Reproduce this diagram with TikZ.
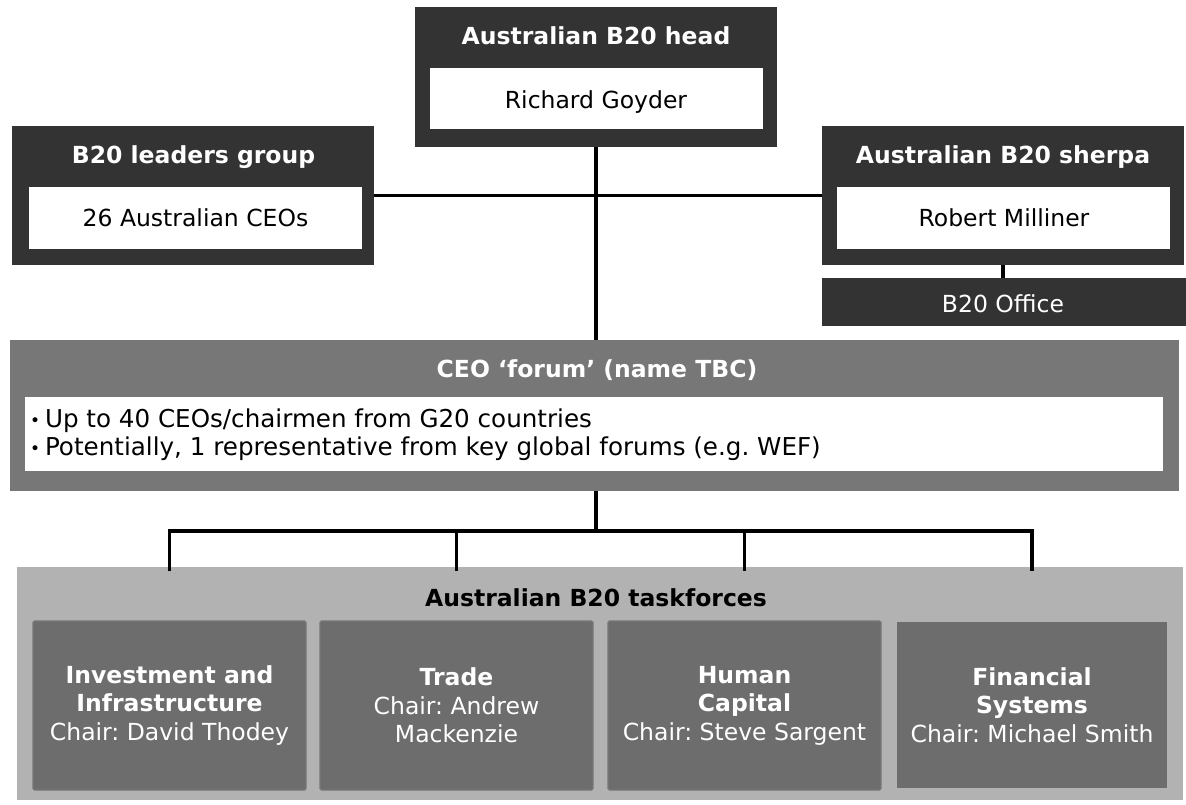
\documentclass[tikz,border=0pt]{standalone}
\usepackage{fontspec}
\setmainfont{DejaVu Sans}
\frenchspacing
\definecolor{boxdark}{HTML}{333333}
\definecolor{forumgray}{HTML}{777777}
\definecolor{tfouter}{HTML}{B2B2B2}
\definecolor{tfinner}{HTML}{6D6D6D}
\definecolor{tfedge}{HTML}{777777}
\newcommand{\bul}{\makebox[15pt][l]{\fontsize{17}{17}\selectfont\raisebox{1pt}{•}}}
\begin{document}
\begin{tikzpicture}[x=1pt,y=-1pt,
  every node/.style={inner sep=0pt, outer sep=0pt},
  txt/.style={font=\fontsize{23.5}{28.5}\selectfont},
  panel/.style={fill=boxdark, anchor=north west},
  whitebox/.style={fill=white, anchor=north west},
  title/.style={txt, text=white, anchor=base, font=\fontsize{23.5}{28.5}\selectfont\bfseries},
  body/.style={txt, text=black, anchor=base},
  tfbox/.style={fill=tfinner, anchor=north west, minimum width=273, minimum height=169,
                txt, text=white, align=center},
  tfframed/.style={tfbox, draw=tfedge, line width=1.2pt, rounded corners=1.5pt},
  link/.style={draw=black, line width=3.5pt}
]
\useasboundingbox (0,0) rectangle (1186,805);

% top row: head, leaders group, sherpa
\node[panel, minimum width=362, minimum height=140] (head) at (415,7) {};
\node[whitebox, minimum width=333, minimum height=61] (headw) at (430,68) {};
\node[title] (headt) at (596,45) {Australian B20 head};
\node[body] (headn) at (596,109) {Richard Goyder};

\node[panel, minimum width=362, minimum height=139] (lead) at (12,126) {};
\node[whitebox, minimum width=333, minimum height=62] (leadw) at (29,187) {};
\node[title] (leadt) at (193.5,164) {B20 leaders group};
\node[body] (leadn) at (195.5,227) {26 Australian CEOs};

\node[panel, minimum width=362, minimum height=139] (sherpa) at (822,126) {};
\node[whitebox, minimum width=333, minimum height=62] (sherpaw) at (837,187) {};
\node[title] (sherpat) at (1003,164) {Australian B20 sherpa};
\node[body] (sherpan) at (1004,227) {Robert Milliner};

\node[panel, minimum width=364, minimum height=48] (office) at (822,278) {};
\node[txt, text=white, anchor=base] (officet) at (1003,312) {B20 Office};

% CEO forum
\node[fill=forumgray, anchor=north west, minimum width=1169, minimum height=151] (forum) at (10,340) {};
\node[whitebox, minimum width=1138, minimum height=74] (forumw) at (25,397) {};
\node[title] (forumt) at (597,377) {CEO ‘forum’ (name TBC)};
\node[anchor=base west, align=left, font=\fontsize{24.6}{28.5}\selectfont] (forumb) at (30,455.5)
  {\bul Up to 40 CEOs/chairmen from G20 countries\\
   \bul Potentially, 1 representative from key global forums (e.g. WEF)};

% taskforces
\node[fill=tfouter, anchor=north west, minimum width=1166, minimum height=233] (tf) at (17,567) {};
\node[txt, anchor=base, font=\fontsize{23.5}{28.5}\selectfont\bfseries] (tft) at (596,606) {Australian B20 taskforces};
\node[tfframed] (t1) at (33,621) {\textbf{Investment and}\\\textbf{Infrastructure}\\Chair: David Thodey};
\node[tfframed] (t2) at (320,621) {\textbf{Trade}\\Chair: Andrew\\Mackenzie};
\node[tfframed] (t3) at (608,621) {\textbf{Human}\\\textbf{Capital}\\Chair: Steve Sargent};
\node[tfbox, minimum width=270, minimum height=166] (t4) at (897,622) {\textbf{Financial}\\\textbf{Systems}\\Chair: Michael Smith};

% connectors
\coordinate (bus) at (596,531);
\draw[link] (head.south) -- (head.south |- forum.north);
\draw[link] (lead.east) -- (sherpa.west);
\draw[link] (sherpa.south) -- (sherpa.south |- office.north);
\draw[link] (head.south |- forum.south) -- (bus);
\draw[link, line join=miter] ([yshift=-4pt]t1.north |- tf.north) -- (t1.north |- bus)
   -- (t4.north |- bus) -- ([yshift=-4pt]t4.north |- tf.north);
\draw[link] (t2.north |- bus) -- ([yshift=-4pt]t2.north |- tf.north);
\draw[link] (t3.north |- bus) -- ([yshift=-4pt]t3.north |- tf.north);
\end{tikzpicture}
\end{document}
